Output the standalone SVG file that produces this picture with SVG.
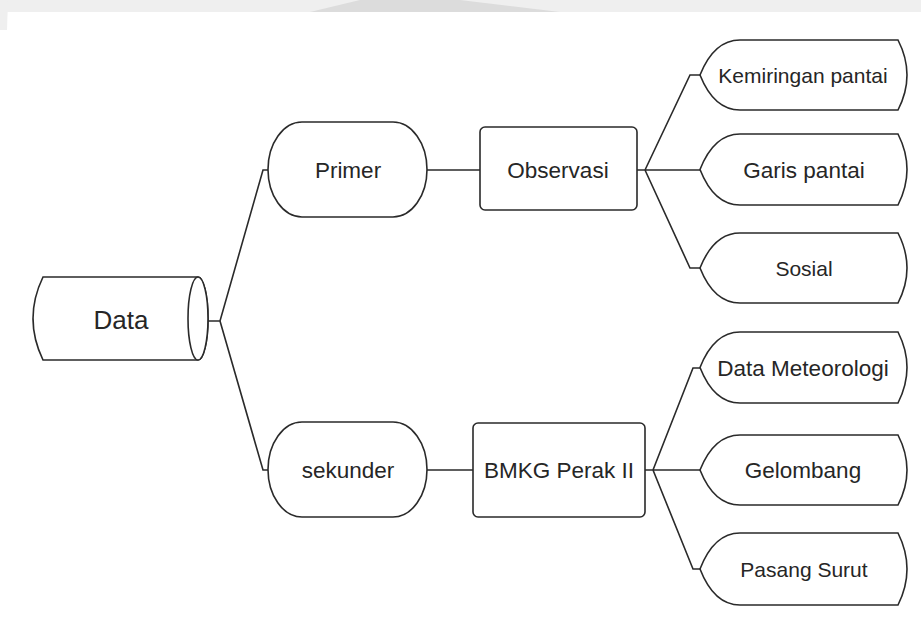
<svg xmlns="http://www.w3.org/2000/svg" width="921" height="624" viewBox="0 0 921 624">
<style>
.s{fill:#fff;stroke:#2a2a2a;stroke-width:1.6}
.c{fill:none;stroke:#2a2a2a;stroke-width:1.6}
text{font-family:"Liberation Sans",Arial,sans-serif;fill:#262626;text-anchor:middle}
.t1{font-size:22.5px}
.t2{font-size:21px}
.t0{font-size:26px}
.wm{fill:#efefef}
</style>
<rect width="921" height="624" fill="#fff"/>
<g id="watermark">
<rect class="wm" x="0" y="0" width="921" height="12"/>
<polygon points="310,12 360,0 460,0 560,12" fill="#dcdcdc"/>
<polygon points="0,0 8,0 7,30 0,30" class="wm"/>
</g>
<g id="connectors">
<path class="c" d="M208,321 H220 L263,170 H268 M220,321 L263,470 H268"/>
<path class="c" d="M427,170 H480 M427,470 H473"/>
<path class="c" d="M637,170 H700 M645,170 L690,75 H700 M645,170 L690,268 H700"/>
<path class="c" d="M645,470 H700 M653,470 L693,368 H700 M653,470 L693,569 H700"/>
</g>
<g id="data">
<path class="s" d="M43,277 L198,277 A10,41.5 0 0 1 198,360 L43,360 Q23,318.5 43,277 Z"/>
<ellipse class="s" cx="198" cy="318.5" rx="10" ry="41.5"/>
<text class="t0" x="121" y="329">Data</text>
</g>
<g id="primer">
<rect class="s" x="268" y="122" width="159" height="95" rx="34" ry="47.5"/>
<text class="t1" x="348" y="178">Primer</text>
</g>
<g id="sekunder">
<rect class="s" x="268" y="422" width="159" height="95" rx="34" ry="47.5"/>
<text class="t1" x="348" y="478">sekunder</text>
</g>
<g id="observasi">
<rect class="s" x="480" y="127" width="157" height="83" rx="5"/>
<text class="t1" x="558" y="178">Observasi</text>
</g>
<g id="bmkg">
<rect class="s" x="473" y="423" width="172" height="94" rx="5"/>
<text class="t1" x="559" y="478">BMKG Perak II</text>
</g>
<g id="kemiringan">
<path class="s" d="M700,75 Q714,40 740,40 L898,40 Q916,75 898,110 L740,110 Q714,110 700,75 Z"/>
<text class="t2" x="803" y="82.5">Kemiringan pantai</text>
</g>
<g id="garis">
<path class="s" d="M700,169.5 Q714,134 740,134 L898,134 Q916,169.5 898,205 L740,205 Q714,205 700,169.5 Z"/>
<text class="t1" x="804" y="177.5">Garis pantai</text>
</g>
<g id="sosial">
<path class="s" d="M700,268 Q714,233 740,233 L898,233 Q916,268 898,303 L740,303 Q714,303 700,268 Z"/>
<text class="t2" x="804" y="275.5">Sosial</text>
</g>
<g id="meteorologi">
<path class="s" d="M700,367.5 Q714,332 740,332 L898,332 Q916,367.5 898,403 L740,403 Q714,403 700,367.5 Z"/>
<text class="t1" x="803" y="375.5">Data Meteorologi</text>
</g>
<g id="gelombang">
<path class="s" d="M700,470 Q714,435 740,435 L898,435 Q916,470 898,505 L740,505 Q714,505 700,470 Z"/>
<text class="t1" x="803" y="478">Gelombang</text>
</g>
<g id="pasang">
<path class="s" d="M700,569 Q714,533 740,533 L898,533 Q916,569 898,605 L740,605 Q714,605 700,569 Z"/>
<text class="t2" x="804" y="576.5">Pasang Surut</text>
</g>
</svg>
